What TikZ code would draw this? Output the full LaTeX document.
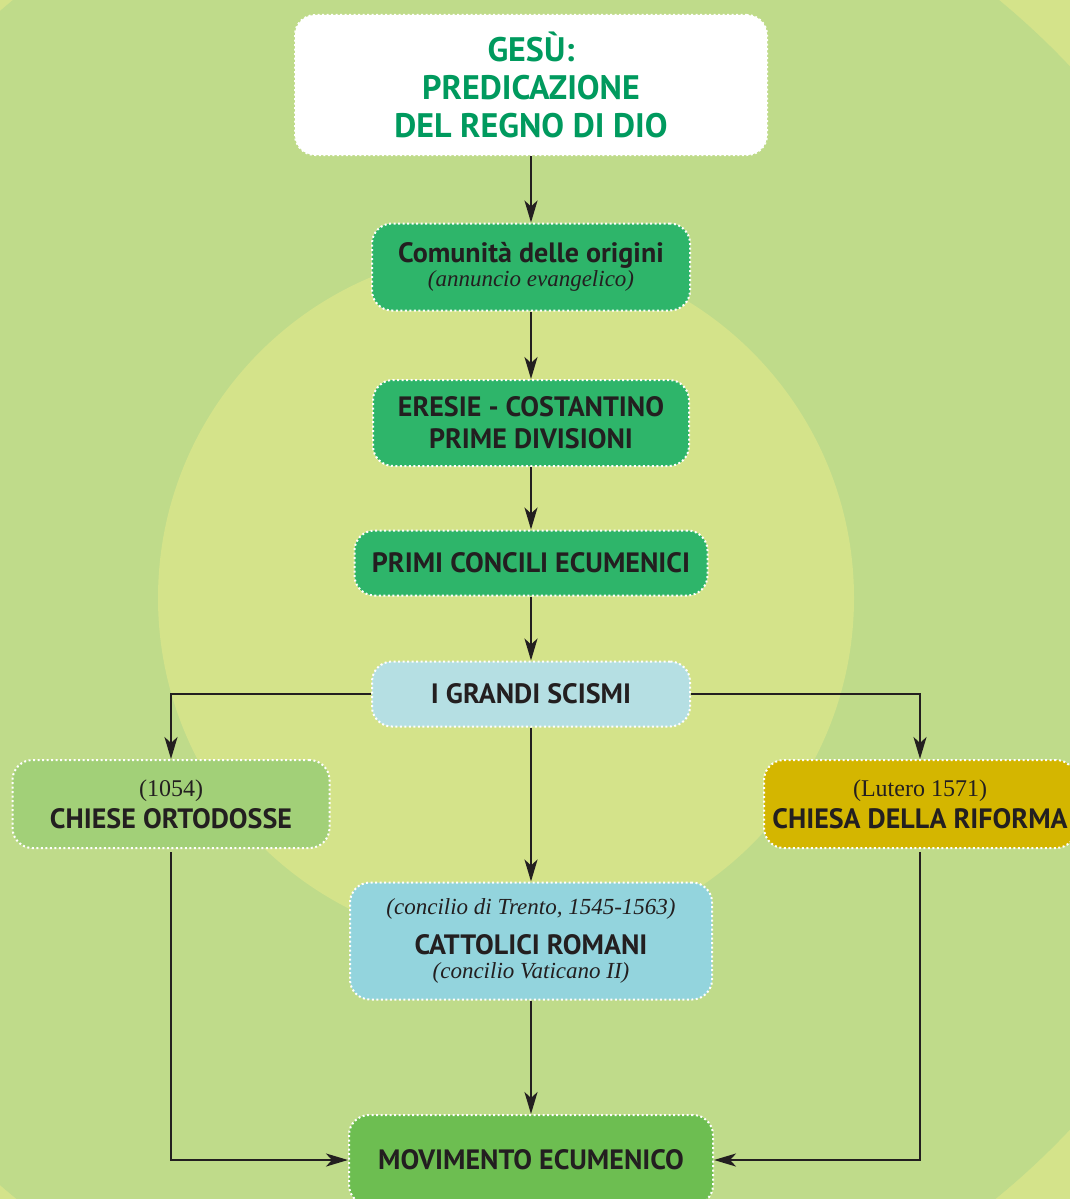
\documentclass[tikz,border=0pt]{standalone}
\usepackage{fontspec}
\setmainfont{Liberation Serif}
\newfontfamily\dinfont{PT Sans}
\usepackage{tikz}
\usetikzlibrary{positioning,arrows.meta}

\definecolor{bgyellow}{HTML}{D4E38A}
\definecolor{bggreen}{HTML}{BFDB8A}
\definecolor{titlegreen}{HTML}{009A5E}
\definecolor{boxgreen}{HTML}{2EB56A}
\definecolor{schismblue}{HTML}{B5DFE3}
\definecolor{orthogreen}{HTML}{A2D078}
\definecolor{reformgold}{HTML}{D4B600}
\definecolor{catholicblue}{HTML}{93D4DD}
\definecolor{ecumgreen}{HTML}{6DBE51}
\definecolor{inkdark}{HTML}{231F20}

\newcommand{\noteline}[1]{{\rmfamily\mdseries\itshape\fontsize{23}{24}\selectfont #1}}
\newcommand{\dateline}[1]{{\rmfamily\mdseries\fontsize{24}{26}\selectfont #1}}

\tikzset{
    box/.style={rounded corners=20pt, draw=white, line width=2pt,
        dash pattern=on 2pt off 2.5pt, align=center, inner sep=0pt,
        text=inkdark, font=\dinfont\bfseries\fontsize{28}{32}\selectfont},
    link/.style={->, draw=inkdark, line width=2.4pt}
}

\begin{document}
\begin{tikzpicture}[x=1pt, y=-1pt,
    >={Stealth[length=22pt, width=13pt, inset=6pt]}]

        % background: ring and inner disc
        \useasboundingbox (0,0) rectangle (1070,1199);
        \begin{scope}
            \clip (0,0) rectangle (1070,1199);
            \fill[bgyellow] (0,0) rectangle (1070,1199);
            \fill[bggreen] (506,598) circle[radius=775pt];
            \fill[bgyellow] (506,598) circle[radius=348pt];
        \end{scope}

        % main line
        \node[box, fill=white, text=titlegreen, minimum width=472pt, minimum height=140pt,
            font=\dinfont\bfseries\fontsize{34}{38}\selectfont]
            (jesus) at (531,85) {GESÙ:\\PREDICAZIONE\\DEL REGNO DI DIO};
        \node[box, fill=boxgreen, minimum width=318pt, minimum height=87pt]
            (origins) at (531,267) {Comunità delle origini\\[-8pt]\noteline{(annuncio evangelico)}};
        \node[box, fill=boxgreen, minimum width=316pt, minimum height=86pt]
            (heresies) at (531,423) {ERESIE - COSTANTINO\\PRIME DIVISIONI};
        \node[box, fill=boxgreen, minimum width=353pt, minimum height=65pt]
            (councils) at (531,563) {PRIMI CONCILI ECUMENICI};
        \node[box, fill=schismblue, minimum width=318pt, minimum height=65pt]
            (schisms) at (531,694) {I GRANDI SCISMI};

        % the three churches
        \node[box, fill=orthogreen, minimum width=317pt, minimum height=88pt]
            (orthodox) at (171,804) {\dateline{(1054)}\\CHIESE ORTODOSSE};
        \node[box, fill=reformgold, minimum width=312pt, minimum height=88pt]
            (reform) at (920,804) {\dateline{(Lutero 1571)}\\CHIESA DELLA RIFORMA};
        \node[box, fill=catholicblue, minimum width=362pt, minimum height=117pt]
            (catholic) at (531,941) {\noteline{(concilio di Trento, 1545-1563)}\\[8pt]CATTOLICI ROMANI\\[-8pt]\noteline{(concilio Vaticano II)}};

        \node[box, fill=ecumgreen, minimum width=364pt, minimum height=90pt]
            (ecumen) at (531,1160) {MOVIMENTO ECUMENICO};

        % connectors
        \draw[link] (jesus) -- (origins);
        \draw[link] (origins) -- (heresies);
        \draw[link] (heresies) -- (councils);
        \draw[link] (councils) -- (schisms);
        \draw[link] (schisms.west) -| (orthodox.north);
        \draw[link] (schisms.east) -| (reform.north);
        \draw[link] (schisms) -- (catholic);
        \draw[link] (catholic) -- (ecumen);
        \draw[link, shorten <=3pt] (orthodox.south) |- (ecumen.west);
        \draw[link, shorten <=3pt] (reform.south) |- (ecumen.east);

    \end{tikzpicture}
\end{document}
